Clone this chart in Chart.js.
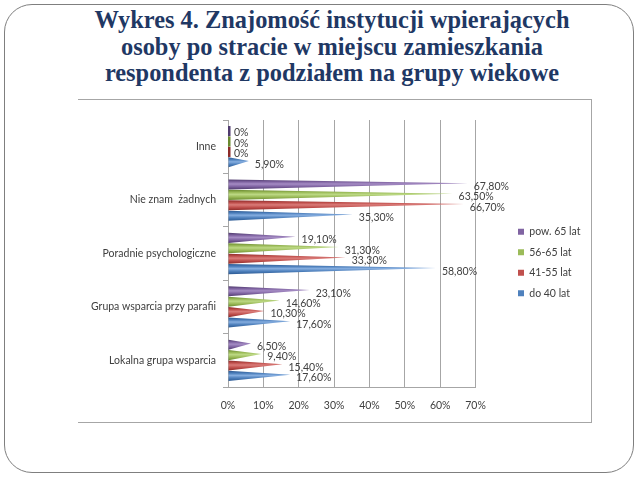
<!DOCTYPE html>
<html>
<head>
<meta charset="utf-8">
<script src="https://cdn.jsdelivr.net/npm/chart.js@4/dist/chart.umd.min.js"></script>
<style>
  body { margin: 0; width: 640px; height: 480px; background: #fff; position: relative; overflow: hidden; }
  #frame { position: absolute; left: 4px; top: 4px; width: 628px; height: 467px; border: 1.5px solid #7f7f7f; border-radius: 28px; }
  #title { position: absolute; left: 72px; top: 7px; width: 520px; text-align: center;
    font-family: "Liberation Serif", serif; font-weight: bold; font-size: 24.4px; line-height: 26.5px; color: #1f3864; }
  #box { position: absolute; left: 78px; top: 99px; width: 514px; height: 324px;
    border-top: 1.5px solid #a6a6a6; border-right: 1.5px solid #a6a6a6; border-bottom: 1.5px solid #a6a6a6; box-sizing: border-box; }
  #mycanvas { position: absolute; left: 78px; top: 99px; }
</style>
</head>
<body>
<div id="frame"></div>
<div id="title">Wykres 4. Znajomość instytucji wpierających<br>osoby po stracie w miejscu zamieszkania<br>respondenta z podziałem na grupy wiekowe</div>
<div id="box"></div>
<canvas id="mycanvas" width="514" height="324"></canvas>
<script>
var categories = ["Inne", "Nie znam  żadnych", "Poradnie psychologiczne", "Grupa wsparcia przy parafii", "Lokalna grupa wsparcia"];
var seriesNames = ["pow. 65 lat", "56-65 lat", "41-55 lat", "do 40 lat"];
var pow65 = [0, 67.8, 19.1, 23.1, 6.5];
var lat56_65 = [0, 63.5, 31.3, 14.6, 9.4];
var lat41_55 = [0, 66.7, 33.3, 10.3, 15.4];
var do40 = [5.9, 35.3, 58.8, 17.6, 17.6];
var xTicks = [0, 10, 20, 30, 40, 50, 60, 70];

var colors = ["#8064a2", "#9bbb59", "#c0504d", "#4f81bd"];
var darks = ["#4f3a6e", "#6a8a2f", "#8c2a28", "#2c5a94"];
var lights = ["#a58cc4", "#bcd884", "#da7c79", "#86aee0"];

function fmt(v) {
	if (v === 0) return "0%";
	return v.toFixed(2).replace(".", ",") + "%";
}

// cones instead of flat bars
var conePlugin = {
	id: "cones",
	beforeDatasetDraw: function(chart, args) {
		var ctx = chart.ctx;
		var k = args.index;
		ctx.save();
		args.meta.data.forEach(function(bar) {
			var p = bar.getProps(["x", "y", "base", "height"], true);
			var top = p.y - p.height / 2, bottom = p.y + p.height / 2;
			if (p.x - p.base < 1) {
				ctx.fillStyle = darks[k];
				ctx.fillRect(p.base, top, 2.5, p.height);
				return;
			}
			var g = ctx.createLinearGradient(0, top, 0, bottom);
			g.addColorStop(0, darks[k]);
			g.addColorStop(0.25, colors[k]);
			g.addColorStop(0.45, lights[k]);
			g.addColorStop(0.7, colors[k]);
			g.addColorStop(1, darks[k]);
			ctx.fillStyle = g;
			ctx.beginPath();
			ctx.moveTo(p.base, top);
			ctx.lineTo(p.x, p.y - p.height * 0.12);
			ctx.lineTo(p.base, bottom);
			ctx.closePath();
			ctx.fill();
		});
		ctx.restore();
		return false;
	},
	afterDatasetsDraw: function(chart) {
		var ctx = chart.ctx;
		ctx.save();
		ctx.font = "10.5px Lato";
		ctx.fillStyle = "#404040";
		ctx.textBaseline = "middle";
		chart.data.datasets.forEach(function(ds, k) {
			chart.getDatasetMeta(k).data.forEach(function(bar, i) {
				var p = bar.getProps(["x", "y"], true);
				ctx.fillText(fmt(ds.data[i]), p.x + 6, p.y + 2);
			});
		});
		ctx.restore();
	}
};

// legend sits further right than the plot edge
var legendShift = {
	id: "legendShift",
	afterLayout: function(chart) {
		var lg = chart.legend;
		var w = lg.right - lg.left;
		lg.left = 430;
		lg.right = lg.left + w;
		lg.top -= 9;
		lg.bottom -= 9;
	}
};

var chartdata = {
	labels: categories,
	datasets: [
		{ label: seriesNames[0], data: pow65, backgroundColor: colors[0], borderWidth: 0 },
		{ label: seriesNames[1], data: lat56_65, backgroundColor: colors[1], borderWidth: 0 },
		{ label: seriesNames[2], data: lat41_55, backgroundColor: colors[2], borderWidth: 0 },
		{ label: seriesNames[3], data: do40, backgroundColor: colors[3], borderWidth: 0 }
	]
};

var ctx = document.getElementById("mycanvas");

var HBar = new Chart(ctx, {
	type: "bar",
	data: chartdata,
	plugins: [conePlugin, legendShift],
	options: {
		indexAxis: "y",
		responsive: false,
		animation: false,
		devicePixelRatio: 1,
		categoryPercentage: 0.78,
		barPercentage: 0.97,
		layout: { padding: { left: 0, right: 34, top: 21, bottom: 0 } },
		scales: {
			x: {
				min: 0,
				max: 70,
				afterBuildTicks: function(s) { s.ticks = xTicks.map(function(v) { return { value: v }; }); },
				afterFit: function(s) { s.height = 36; },
				ticks: { callback: function(v) { return v + "%"; }, font: { family: "Lato", size: 10.5 }, color: "#404040", padding: 12 },
				grid: { color: "#a6a6a6", drawTicks: false },
				border: { color: "#a6a6a6" }
			},
			y: {
				afterFit: function(s) { s.width = 150; },
				ticks: { font: { family: "Lato", size: 10.5 }, color: "#404040", padding: 7 },
				grid: { drawOnChartArea: false, offset: true, tickLength: 5, color: "#a6a6a6" },
				border: { color: "#a6a6a6" }
			}
		},
		plugins: {
			legend: {
				position: "right",
				labels: { boxWidth: 6, boxHeight: 6, font: { family: "Lato", size: 10.5 }, color: "#404040", padding: 10 }
			},
			tooltip: { enabled: false }
		}
	}
});
</script>
</body>
</html>
